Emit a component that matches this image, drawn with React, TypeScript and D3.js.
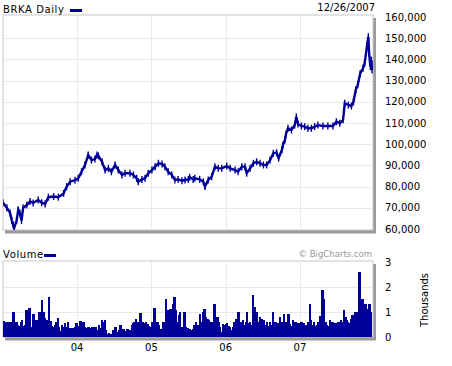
import React from "react";
import * as d3 from "d3";

const priceDates = [
  "2003-01-02","2003-01-21","2003-02-06","2003-02-14","2003-02-21","2003-02-26","2003-03-10","2003-03-18","2003-03-26","2003-04-03",
  "2003-04-11","2003-04-29","2003-05-15","2003-05-30","2003-06-24","2003-07-11","2003-07-28","2003-08-13","2003-09-08","2003-10-01",
  "2003-10-27","2003-11-11","2003-11-28","2003-12-22","2004-01-07","2004-01-23","2004-02-09","2004-02-25","2004-03-12","2004-03-29",
  "2004-04-08","2004-04-15","2004-05-03","2004-05-18","2004-06-03","2004-06-18","2004-07-06","2004-07-22","2004-08-09","2004-08-24",
  "2004-09-17","2004-10-04","2004-10-20","2004-10-28","2004-11-15","2004-11-30","2004-12-16","2005-01-03","2005-01-19","2005-02-04",
  "2005-02-22","2005-03-08","2005-03-24","2005-04-11","2005-04-26","2005-05-12","2005-05-31","2005-06-15","2005-07-01","2005-07-08",
  "2005-07-25","2005-08-02","2005-08-26","2005-09-13","2005-09-21","2005-10-07","2005-10-24","2005-11-09","2005-11-25","2005-12-12",
  "2006-01-06","2006-01-23","2006-02-16","2006-03-03","2006-03-21","2006-04-06","2006-04-14","2006-05-01","2006-05-17","2006-06-02",
  "2006-06-19","2006-07-05","2006-07-21","2006-08-07","2006-08-23","2006-09-08","2006-09-18","2006-10-04","2006-10-09","2006-10-19",
  "2006-10-24","2006-11-03","2006-11-20","2006-12-06","2006-12-14","2006-12-22","2007-01-08","2007-01-24","2007-02-09","2007-02-26",
  "2007-03-14","2007-03-30","2007-04-24","2007-05-18","2007-06-12","2007-06-29","2007-07-16","2007-08-01","2007-08-09","2007-08-27",
  "2007-09-11","2007-09-21","2007-10-02","2007-10-12","2007-10-24","2007-11-07","2007-11-15","2007-11-26","2007-12-03","2007-12-07",
  "2007-12-13","2007-12-18","2007-12-21","2007-12-26"
];

const priceValues = [
  72400,70000,67500,64000,62000,60500,64000,69000,67500,64000,
  70000,71300,73000,72300,73700,72400,71800,75000,75300,75000,
  76800,80000,82300,83000,83900,87000,90200,94900,92500,93000,
  94900,94500,91700,87800,88600,87000,90200,87800,85500,86300,
  86300,85500,83900,82300,83400,83900,86300,87800,89400,91000,
  90700,89400,87000,85500,83100,83400,82800,83100,83400,84400,
  83400,83900,83400,82300,80000,83100,84700,89400,88600,88600,
  89700,88600,87800,87000,89400,89400,86300,88600,91000,91700,
  91000,90200,90200,92500,95700,96000,93400,97300,99500,102000,
  104700,107500,106700,109000,112900,109500,108600,108300,107500,107500,
  108300,109000,108600,108600,108600,110600,109900,111500,119300,118500,
  118000,120000,125600,128000,133400,135800,138200,146000,150700,142900,
  136600,139700,135000,137000
];

// weekly volume in thousands, first week starting 2003-01-02
const volumeStart = "2003-01-02";
const volumeValues = [
  0.65,0.55,0.6,0.5,0.6,0.55,0.6,1.0,0.55,0.6,0.5,0.45,0.6,0.7,0.45,0.5,1.1,0.5,1.15,0.4,
  0.4,0.93,0.6,0.7,0.65,1.0,0.7,1.5,1.0,0.75,0.7,0.5,1.6,0.65,0.45,0.4,0.5,0.6,0.76,0.4,
  0.25,0.5,0.4,0.55,0.4,0.6,0.35,0.35,0.3,0.35,0.4,0.57,0.45,0.35,0.63,0.3,0.6,0.4,0.35,0.4,
  0.4,0.35,0.4,0.4,0.35,0.4,0.27,0.47,0.35,0.69,0.6,0.69,0.27,0.13,0.15,0.13,0.12,0.27,0.4,0.4,
  0.2,0.3,0.47,0.27,0.33,0.25,0.2,0.33,0.3,0.27,0.47,0.56,0.6,0.73,0.6,0.5,0.97,0.4,0.6,0.55,
  0.6,0.53,0.45,0.4,0.6,0.33,1.17,0.4,0.6,0.5,0.33,0.33,0.6,0.6,1.51,1.07,0.67,1.13,0.8,1.33,
  1.6,1.07,0.6,0.87,1.0,0.4,0.27,1.0,0.4,0.35,0.27,0.33,0.27,0.33,0.47,0.6,0.5,0.4,0.93,0.6,
  1.0,1.13,0.8,0.73,0.67,0.6,0.6,0.53,1.33,0.53,0.8,0.6,0.4,0.2,0.53,0.47,0.53,0.56,0.45,0.4,
  0.27,0.4,0.6,0.73,0.5,1.0,0.6,0.6,0.67,0.47,0.6,1.0,0.55,0.6,0.5,1.69,1.2,0.6,1.0,0.6,
  0.8,0.73,0.55,0.67,0.5,0.6,0.45,0.6,0.5,1.0,0.45,0.6,0.5,0.55,0.8,0.6,0.45,0.93,0.6,0.5,
  0.93,0.53,0.45,0.69,0.5,0.6,0.4,0.55,0.5,0.6,0.45,0.55,0.5,0.4,0.6,1.33,0.67,0.5,0.6,0.45,
  0.5,0.6,0.83,0.5,1.89,1.53,0.6,0.5,0.45,0.67,0.5,0.6,0.47,0.55,0.45,0.6,0.5,0.67,0.6,1.1,
  0.8,0.67,0.6,0.55,0.73,0.87,0.6,1.0,1.0,0.4,2.6,1.53,1.53,0.67,1.33,1.13,0.8,1.33,1.0
];

const priceTicks = [60000,70000,80000,90000,100000,110000,120000,130000,140000,150000,160000];
const volumeTicks = [0,1,2,3];
const yearTicks = ["2004-01-01","2005-01-01","2006-01-01","2007-01-01"];
const yearLabels = ["04","05","06","07"];

const NAVY = "#000099";
const FONT = "DejaVu Sans, Verdana, sans-serif";

export default function App() {
  const parse = d3.timeParse("%Y-%m-%d");
  const x = d3.scaleTime().domain([parse("2003-01-02")!, parse("2007-12-26")!]).range([3, 373]);
  const y = d3.scaleLinear().domain([60000, 160000]).range([229, 17]);
  const yv = d3.scaleLinear().domain([0, 3]).range([337, 262]);

  const pts = priceDates.map((d, i) => ({ d: parse(d)!, v: priceValues[i] }));
  const line = d3.line<{ d: Date; v: number }>().x((p) => x(p.d)).y((p) => y(p.v));

  const vStart = parse(volumeStart)!;
  const bars = volumeValues.map((v, i) => {
    const d0 = d3.timeDay.offset(vStart, i * 7);
    const d1 = d3.timeDay.offset(vStart, i * 7 + 7);
    const x0 = Math.floor(x(d0));
    const x1 = Math.min(Math.ceil(x(d1)), 373);
    return { x0, w: Math.max(1, x1 - x0), v };
  });

  const fmt = d3.format(",");
  const main = { x0: 3, x1: 373, y0: 15, y1: 230 };
  const vol = { x0: 3, x1: 373, y0: 261, y1: 337 };

  return (
    <svg width={452} height={366} style={{ position: "absolute", left: 0, top: 0, background: "#fff" }} fontFamily={FONT}>
      <defs>
        <clipPath id="mainClip">
          <rect x={main.x0} y={main.y0} width={main.x1 - main.x0} height={main.y1 - main.y0} />
        </clipPath>
      </defs>
      {/* shadows */}
      <rect x={main.x0 + 2} y={main.y0 + 3} width={main.x1 - main.x0 + 1} height={main.y1 - main.y0 + 0.5} fill="#9a9a9a" />
      <rect x={main.x0} y={main.y0} width={main.x1 - main.x0} height={main.y1 - main.y0} fill="#fff" stroke="#c8c8c8" strokeWidth={1} />
      <rect x={vol.x0 + 2} y={vol.y0 + 3} width={vol.x1 - vol.x0 + 1} height={vol.y1 - vol.y0 + 0.5} fill="#9a9a9a" />
      <rect x={vol.x0} y={vol.y0} width={vol.x1 - vol.x0} height={vol.y1 - vol.y0} fill="#fff" stroke="#c8c8c8" strokeWidth={1} />

      {/* grid main */}
      {priceTicks.filter((t) => t > 60000 && t < 160000).map((t) => (
        <line key={"g" + t} x1={main.x0 + 0.5} x2={main.x1 - 0.5} y1={Math.round(y(t)) + 0.5} y2={Math.round(y(t)) + 0.5} stroke="#e8e8e8" />
      ))}
      {yearTicks.map((t) => (
        <line key={"gv" + t} x1={Math.round(x(parse(t)!)) + 0.5} x2={Math.round(x(parse(t)!)) + 0.5} y1={main.y0 + 0.5} y2={main.y1 - 0.5} stroke="#e8e8e8" />
      ))}
      {/* grid volume */}
      {volumeTicks.filter((t) => t > 0 && t < 3).map((t) => (
        <line key={"vg" + t} x1={vol.x0 + 0.5} x2={vol.x1 - 0.5} y1={Math.round(yv(t)) + 0.5} y2={Math.round(yv(t)) + 0.5} stroke="#e8e8e8" />
      ))}
      {yearTicks.map((t) => (
        <line key={"vgv" + t} x1={Math.round(x(parse(t)!)) + 0.5} x2={Math.round(x(parse(t)!)) + 0.5} y1={vol.y0 + 0.5} y2={vol.y1 - 0.5} stroke="#e8e8e8" />
      ))}

      {/* price */}
      <g clipPath="url(#mainClip)">
        <path d={line(pts) || ""} fill="none" stroke={NAVY} strokeWidth={2.4} strokeLinejoin="miter" />
        {pts.map((p, i) => (
          <line key={"t" + i} x1={x(p.d)} x2={x(p.d)} y1={y(p.v) - 3.5} y2={y(p.v) + 3.5} stroke={NAVY} strokeWidth={1.4} />
        ))}
      </g>

      {/* volume bars */}
      <g shapeRendering="crispEdges">
        {bars.map((b, i) => (
          <rect key={"b" + i} x={b.x0} y={yv(b.v)} width={b.w} height={yv(0) - yv(b.v)} fill={NAVY} />
        ))}
      </g>

      {/* header texts */}
      <text x={3} y={13} fontSize={10} letterSpacing={0.6} fill="#000">BRKA Daily</text>
      <rect x={70} y={9} width={12} height={3} fill={NAVY} />
      <text x={375} y={11} fontSize={10} textAnchor="end" fill="#000">12/26/2007</text>

      <text x={3} y={258} fontSize={10} letterSpacing={0.6} fill="#000">Volume</text>
      <rect x={44} y={254} width={12} height={3} fill={NAVY} />
      <text x={372} y={257} fontSize={8.5} textAnchor="end" fill="#999">© BigCharts.com</text>

      {/* y axis labels */}
      {priceTicks.map((t) => (
        <text key={"yl" + t} x={385} y={y(t)} dy="0.36em" fontSize={10} fill="#000">{fmt(t)}</text>
      ))}
      {volumeTicks.map((t) => (
        <text key={"vl" + t} x={385} y={yv(t)} dy="0.36em" fontSize={10} fill="#000">{t}</text>
      ))}
      <text transform="translate(428,300) rotate(-90)" textAnchor="middle" fontSize={10} fill="#000">Thousands</text>

      {/* x labels */}
      {yearTicks.map((t, i) => (
        <text key={"xl" + t} x={x(parse(t)!)} y={351} fontSize={10} textAnchor="middle" fill="#000">{yearLabels[i]}</text>
      ))}
    </svg>
  );
}
